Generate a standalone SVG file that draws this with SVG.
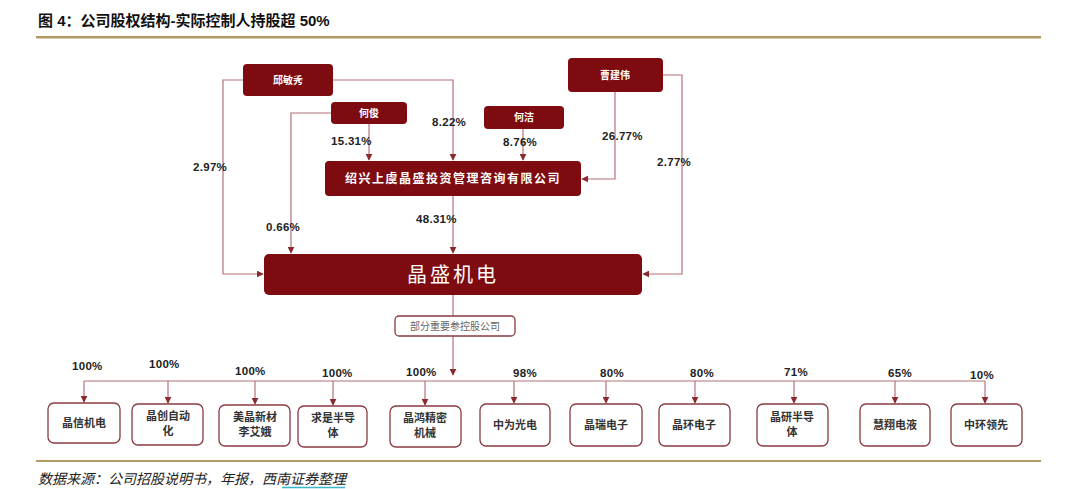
<svg xmlns="http://www.w3.org/2000/svg" width="1080" height="489" viewBox="0 0 1080 489">
<defs>
<style>
.t{font-family:"Liberation Sans","Noto Sans CJK SC",sans-serif}
.dark{fill:#7d0b10}
.wt{fill:#fff;font-family:"Noto Sans CJK SC",sans-serif;font-weight:bold;text-anchor:middle}
.pct{font-family:"Liberation Sans","Noto Sans CJK SC",sans-serif;font-size:11.5px;fill:#222;font-weight:bold;letter-spacing:0.3px}
.ln{fill:none;stroke:#b27378;stroke-width:1.2}
.sub{fill:#fff;stroke:#8a3a40;stroke-width:1.3}
.st{font-family:"Noto Sans CJK SC",sans-serif;font-size:11px;fill:#333;text-anchor:middle;font-weight:bold}
</style>
<marker id="ah" viewBox="0 0 10 10" refX="9" refY="5" markerWidth="7" markerHeight="7" orient="auto" markerUnits="userSpaceOnUse">
<path d="M0,0 L10,5 L0,10 z" fill="#8a2a30"/>
</marker>
</defs>
<rect width="1080" height="489" fill="#fff"/>
<text class="t" x="38" y="26" font-size="15" font-weight="bold" fill="#111">图 4：公司股权结构-实际控制人持股超 50%</text>
<rect x="36" y="36" width="1005" height="2.5" fill="#b39a62"/>

<g id="connectors">
<path class="ln" d="M243,80 H223 V274 H263" marker-end="url(#ah)"/>
<path class="ln" d="M333,80 H453 V160" marker-end="url(#ah)"/>
<path class="ln" d="M331,113 H291 V253" marker-end="url(#ah)"/>
<path class="ln" d="M369,124 V160" marker-end="url(#ah)"/>
<path class="ln" d="M523,129 V160" marker-end="url(#ah)"/>
<path class="ln" d="M615,92 V179 H582" marker-end="url(#ah)"/>
<path class="ln" d="M663,75 H682 V274 H643" marker-end="url(#ah)"/>
<path class="ln" d="M453,196 V253" marker-end="url(#ah)"/>
<path class="ln" d="M453,295 V375" marker-end="url(#ah)"/>
<path class="ln" d="M84,381 H985"/>
<path class="ln" d="M84,381 V402" marker-end="url(#ah)"/>
<path class="ln" d="M168,381 V403" marker-end="url(#ah)"/>
<path class="ln" d="M255,381 V404" marker-end="url(#ah)"/>
<path class="ln" d="M333,381 V405" marker-end="url(#ah)"/>
<path class="ln" d="M425,381 V405" marker-end="url(#ah)"/>
<path class="ln" d="M514,381 V403" marker-end="url(#ah)"/>
<path class="ln" d="M606,381 V403" marker-end="url(#ah)"/>
<path class="ln" d="M695,381 V403" marker-end="url(#ah)"/>
<path class="ln" d="M794,381 V403" marker-end="url(#ah)"/>
<path class="ln" d="M895,381 V403" marker-end="url(#ah)"/>
<path class="ln" d="M985,381 V403" marker-end="url(#ah)"/>
<text class="pct" x="193" y="171">2.97%</text>
<text class="pct" x="266" y="231">0.66%</text>
<text class="pct" x="416" y="223">48.31%</text>
<text class="pct" x="331" y="145">15.31%</text>
<text class="pct" x="432" y="126">8.22%</text>
<text class="pct" x="503" y="146">8.76%</text>
<text class="pct" x="602" y="140">26.77%</text>
<text class="pct" x="657" y="166">2.77%</text>
<text class="pct" x="72" y="370">100%</text>
<text class="pct" x="149" y="368">100%</text>
<text class="pct" x="235" y="375">100%</text>
<text class="pct" x="322" y="377">100%</text>
<text class="pct" x="406" y="376">100%</text>
<text class="pct" x="513" y="377">98%</text>
<text class="pct" x="600" y="377">80%</text>
<text class="pct" x="690" y="377">80%</text>
<text class="pct" x="784" y="376">71%</text>
<text class="pct" x="888" y="377">65%</text>
<text class="pct" x="970" y="379">10%</text>
</g>

<g id="qiu"><rect class="dark" x="243" y="64" width="90" height="32" rx="4"/><text class="wt" x="288" y="84" font-size="10">邱敏秀</text></g>
<g id="hejun"><rect class="dark" x="331" y="102" width="76" height="22" rx="4"/><text class="wt" x="369" y="117" font-size="10">何俊</text></g>
<g id="hejie"><rect class="dark" x="484" y="106" width="80" height="23" rx="4"/><text class="wt" x="524" y="121" font-size="10">何洁</text></g>
<g id="cao"><rect class="dark" x="568" y="58" width="95" height="34" rx="4"/><text class="wt" x="615" y="79" font-size="10">曹建伟</text></g>
<g id="shaoxing"><rect class="dark" x="325" y="161" width="256" height="35" rx="4"/><text class="wt" x="453" y="183" font-size="12" letter-spacing="1.5">绍兴上虞晶盛投资管理咨询有限公司</text></g>
<g id="jingsheng"><rect class="dark" x="264" y="254" width="378" height="41" rx="5"/><text class="wt" x="453" y="282" font-size="20" style="font-weight:normal" letter-spacing="3">晶盛机电</text></g>
<g id="partial"><rect class="sub" x="395" y="316" width="120" height="20" rx="4"/><text x="455" y="330" font-family="Noto Sans CJK SC,sans-serif" font-size="10" fill="#666" text-anchor="middle">部分重要参控股公司</text></g>

<g id="s1"><rect class="sub" x="48" y="403" width="72" height="40" rx="6"/><text class="st" x="84" y="427">晶信机电</text></g>
<g id="s2"><rect class="sub" x="132" y="404" width="71" height="41" rx="6"/><text class="st" x="168" y="420">晶创自动</text><text class="st" x="168" y="435">化</text></g>
<g id="s3"><rect class="sub" x="219" y="405" width="71" height="41" rx="6"/><text class="st" x="255" y="421">美晶新材</text><text class="st" x="255" y="436">李艾娥</text></g>
<g id="s4"><rect class="sub" x="298" y="406" width="69" height="41" rx="6"/><text class="st" x="333" y="422">求是半导</text><text class="st" x="333" y="437">体</text></g>
<g id="s5"><rect class="sub" x="390" y="406" width="71" height="41" rx="6"/><text class="st" x="425" y="422">晶鸿精密</text><text class="st" x="425" y="437">机械</text></g>
<g id="s6"><rect class="sub" x="480" y="404" width="70" height="42" rx="6"/><text class="st" x="515" y="429">中为光电</text></g>
<g id="s7"><rect class="sub" x="570" y="404" width="72" height="42" rx="6"/><text class="st" x="606" y="429">晶瑞电子</text></g>
<g id="s8"><rect class="sub" x="659" y="404" width="71" height="42" rx="6"/><text class="st" x="694" y="429">晶环电子</text></g>
<g id="s9"><rect class="sub" x="757" y="404" width="71" height="42" rx="6"/><text class="st" x="792" y="421">晶研半导</text><text class="st" x="792" y="436">体</text></g>
<g id="s10"><rect class="sub" x="860" y="404" width="70" height="42" rx="6"/><text class="st" x="895" y="429">慧翔电液</text></g>
<g id="s11"><rect class="sub" x="951" y="404" width="71" height="42" rx="6"/><text class="st" x="986" y="429">中环领先</text></g>

<rect x="36" y="460" width="1005" height="2" fill="#b39a62"/>
<text x="38" y="484" font-family="Noto Sans CJK SC,sans-serif" font-size="14" fill="#222" font-style="italic">数据来源：公司招股说明书，年报，西南证券整理</text>
<line x1="282" y1="487.5" x2="345" y2="487.5" stroke="#3cb6c9" stroke-width="1.5"/>
</svg>
